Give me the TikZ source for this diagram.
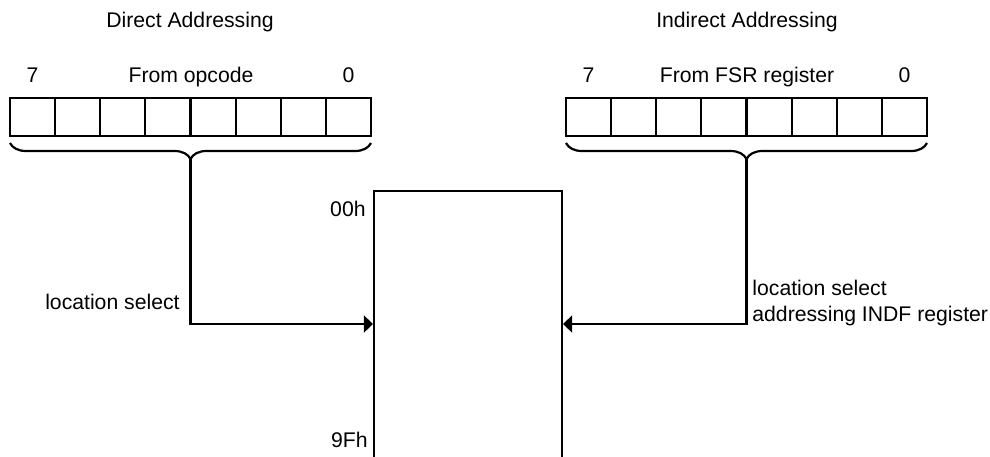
\documentclass[tikz,border=0pt]{standalone}
\usepackage{fontspec}
\setmainfont{Liberation Sans}
\usetikzlibrary{arrows.meta, decorations.pathreplacing}

\begin{document}
\begin{tikzpicture}[x=0.5pt,y=-0.5pt,font=\fontsize{10.6}{13}\selectfont,
    bitcell/.style={draw,line width=1.1pt,minimum width=22.56pt,minimum height=19pt,inner sep=0pt,outer sep=0pt},
    lbl/.style={inner sep=0pt},
    wire/.style={line width=1.1pt,-{Triangle[length=4.5pt,width=8.5pt]}},
    brc/.style={line width=1.1pt,decorate,decoration={brace,mirror,amplitude=8pt}}]
    \useasboundingbox (0,0) rectangle (990,456);
    \clip (0,0) rectangle (990,456);
    % the two 8 bit registers
    \foreach \b [count=\i from 0] in {7,...,0} {
        \node[bitcell] (d\b) at (32.56+45.125*\i,117) {};
        \node[bitcell] (r\b) at (588.56+45.125*\i,117) {};
    }
    \node[lbl,anchor=base] (dtitle) at (190,27.5) {Direct Addressing};
    \node[lbl,anchor=base] (rtitle) at (747,27.5) {Indirect Addressing};
    \node[lbl,anchor=base] (dhi) at (d7 |- 0,82) {7};
    \node[lbl,anchor=base] (dsrc) at (191,82) {From opcode};
    \node[lbl,anchor=base] (dlo) at (d0 |- 0,82) {0};
    \node[lbl,anchor=base] (rhi) at (r7 |- 0,82) {7};
    \node[lbl,anchor=base] (rsrc) at (747,82) {From FSR register};
    \node[lbl,anchor=base] (rlo) at (r0 |- 0,82) {0};
    \draw[brc] ([yshift=-3.5pt]d7.south west) -- ([yshift=-3.5pt]d0.south east);
    \draw[brc] ([yshift=-3.5pt]r7.south west) -- ([yshift=-3.5pt]r0.south east);
    \coordinate (dtip) at ([yshift=-11.5pt]d4.south east);
    \coordinate (rtip) at ([yshift=-11.5pt]r4.south east);
    % data memory
    \node[draw,line width=1.1pt,minimum width=94pt,minimum height=160pt,anchor=north] (mem) at (468,190) {};
    \node[lbl,anchor=base east] (top) at (366,216) {00h};
    \node[lbl,anchor=base east] (bot) at (368,447) {9Fh};
    \coordinate (din) at ([yshift=-67pt]mem.north west);
    \coordinate (rin) at ([yshift=-67pt]mem.north east);
    \draw[wire] (dtip) |- (din);
    \draw[wire] (rtip) |- (rin);
    \node[lbl,anchor=base east] (dsel) at (180,309) {location select};
    \node[lbl,anchor=base west,align=left] (rsel) at (752,321) {location select\\addressing INDF register};
\end{tikzpicture}
\end{document}
